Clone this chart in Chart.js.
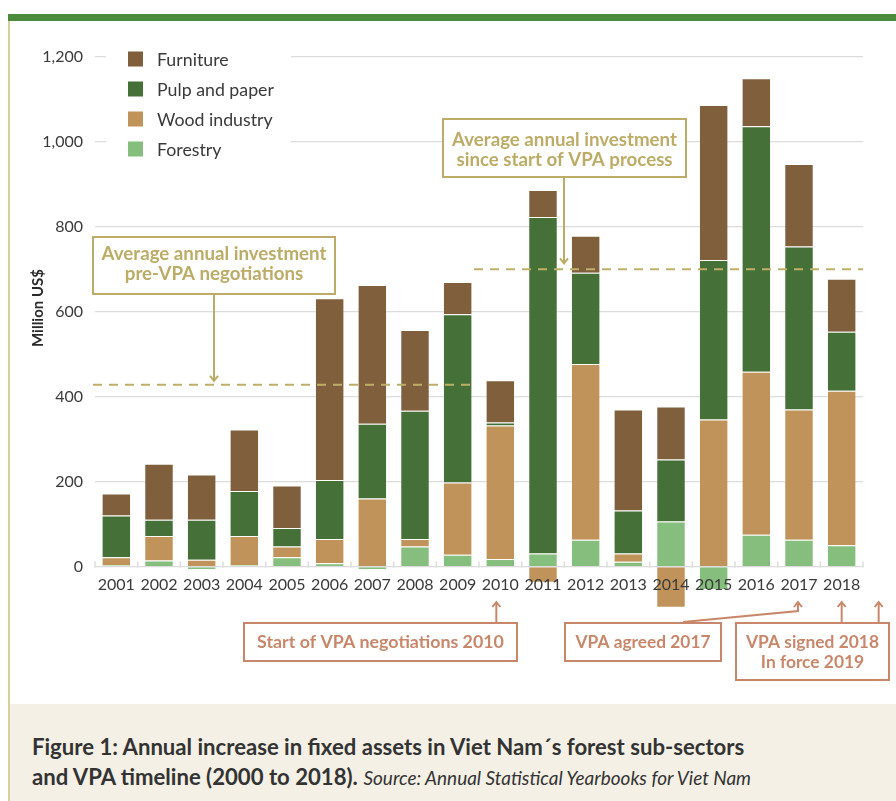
<!DOCTYPE html>
<html><head><meta charset="utf-8">
<script src="https://cdn.jsdelivr.net/npm/chart.js@4"></script>
<style>
html,body{margin:0;padding:0;background:#fff;}
#wrap{position:relative;width:896px;height:801px;overflow:hidden;background:#fff;}
#topbar{position:absolute;left:8px;top:14px;width:888px;height:7px;background:#4B8B3B;}
#leftline{position:absolute;left:8px;top:21px;width:2px;height:780px;background:#D6CE9F;}
#chartbox{position:absolute;left:0;top:0;width:896px;height:704px;}
#caption{position:absolute;left:10px;top:704px;width:886px;height:97px;background:#F4F0E5;}
.cap{position:absolute;left:22px;white-space:nowrap;color:#333;font-family:Lato,"Open Sans",sans-serif;line-height:1;}
</style></head>
<body>
<div id="wrap">
  <div id="topbar"></div>
  <div id="chartbox"><canvas id="c" width="896" height="704"></canvas></div>
  <div id="caption">
    <div class="cap" id="cap1"><b id="cap1b">Figure 1: Annual increase in fixed assets in Viet Nam´s forest sub-sectors</b></div>
    <div class="cap" id="cap2"><b id="cap2b">and VPA timeline (2000 to 2018).</b> <i id="cap2i" style="font-weight:400">Source: Annual Statistical Yearbooks for Viet Nam</i></div>
  </div>
  <div id="leftline"></div>
</div>
<script>
// ---- data ----
const years = ['2001','2002','2003','2004','2005','2006','2007','2008','2009','2010','2011','2012','2013','2014','2015','2016','2017','2018'];
const forestry     = [3, 14, -8, 3, 22, 8, -8, 47, 28, 18, 31, 63, 11, 106, -55, 75, 63, 50];
const woodIndustry = [19, 58, 16, 69, 25, 57, 160, 18, 170, 314, -38, 414, 20, -97, 346, 384, 307, 364];
const pulpPaper    = [98, 38, 94, 106, 44, 139, 176, 302, 396, 7, 792, 215, 101, 146, 376, 578, 384, 139];
const furniture    = [52, 132, 107, 145, 100, 428, 327, 190, 76, 100, 64, 87, 238, 125, 365, 113, 194, 125];
const yTicks = [0, 200, 400, 600, 800, 1000, 1200];
const avgPreVPA = 428;
const avgSinceVPA = 700;
const seriesNames = ['Forestry', 'Wood industry', 'Pulp and paper', 'Furniture'];
const boxTextsGold = [['Average annual investment', 'pre-VPA negotiations'], ['Average annual investment', 'since start of VPA process']];
const boxTextsTimeline = [['Start of VPA negotiations 2010'], ['VPA agreed 2017'], ['VPA signed 2018', 'In force 2019']];

const COLORS = ['#86BE7D', '#C0935A', '#457037', '#7F5F3C'];
const GOLD = '#BDAC67', SALMON = '#C8876A', TXT = '#3a3a3a';
const FAM = 'Lato, "Open Sans", sans-serif';

const mctx = document.createElement('canvas').getContext('2d');
function fitSize(text, weight, style, target) {
  mctx.font = style + ' ' + weight + ' 100px ' + FAM;
  return 100 * target / mctx.measureText(text).width;
}

// caption fitting
(function(){
  const s1 = fitSize('Figure 1: Annual increase in fixed assets in Viet Nam´s forest sub-sectors', 'bold', 'normal', 714);
  const c1 = document.getElementById('cap1'), c2 = document.getElementById('cap2');
  c1.style.fontSize = s1 + 'px'; c2.style.fontSize = s1 + 'px';
  const si = fitSize('Source: Annual Statistical Yearbooks for Viet Nam', 'normal', 'italic', 390);
  document.getElementById('cap2i').style.fontSize = si + 'px';
  c1.style.top = (44 - s1 * 0.55) + 'px';
  c2.style.top = (74 - s1 * 0.55) + 'px';
})();

function arrowHead(ctx, x, y, dir) { // dir: 1 = pointing down, -1 = pointing up
  ctx.beginPath();
  ctx.moveTo(x - 4, y - dir * 5);
  ctx.lineTo(x, y);
  ctx.lineTo(x + 4, y - dir * 5);
  ctx.stroke();
}
function drawBox(ctx, rect, lines, ys, target, color) {
  const [x1, y1, x2, y2] = rect;
  ctx.save();
  ctx.fillStyle = '#fff';
  ctx.fillRect(x1, y1, x2 - x1, y2 - y1);
  ctx.strokeStyle = color; ctx.lineWidth = 2;
  ctx.strokeRect(x1, y1, x2 - x1, y2 - y1);
  const size = fitSize(lines[0], 'bold', 'normal', target);
  ctx.font = 'bold ' + size + 'px ' + FAM;
  ctx.fillStyle = color; ctx.textAlign = 'center'; ctx.textBaseline = 'middle';
  lines.forEach((t, i) => ctx.fillText(t, (x1 + x2) / 2, ys[i]));
  ctx.restore();
}

const decorPlugin = {
  id: 'decor',
  beforeDatasetsDraw(chart) {
    const ctx = chart.ctx, xs = chart.scales.x, ys = chart.scales.y;
    const y0 = ys.getPixelForValue(0);
    ctx.save();
    ctx.strokeStyle = '#dcdcdc'; ctx.lineWidth = 1.5;
    for (let i = 0; i <= years.length; i++) {
      const x = xs.getPixelForValue(i) - (xs.getPixelForValue(1) - xs.getPixelForValue(0)) / 2;
      ctx.beginPath(); ctx.moveTo(x, y0 - 5); ctx.lineTo(x, y0 + 1); ctx.stroke();
    }
    ctx.restore();
  },
  afterDraw(chart) {
    const ctx = chart.ctx, xs = chart.scales.x, ys = chart.scales.y, ca = chart.chartArea;
    const step = xs.getPixelForValue(1) - xs.getPixelForValue(0);
    const boundary = xs.getPixelForValue(9) - step / 2;
    const yPre = ys.getPixelForValue(avgPreVPA), yVPA = ys.getPixelForValue(avgSinceVPA);
    ctx.save();
    // dashed average lines
    ctx.strokeStyle = '#BFAE6A'; ctx.lineWidth = 2; ctx.setLineDash([9, 7]);
    ctx.beginPath(); ctx.moveTo(ca.left - 2, yPre); ctx.lineTo(boundary - 6, yPre); ctx.stroke();
    ctx.beginPath(); ctx.moveTo(boundary - 5, yVPA); ctx.lineTo(ca.right, yVPA); ctx.stroke();
    ctx.setLineDash([]);
    // legend
    ctx.fillStyle = '#fff'; ctx.fillRect(106, 44, 185, 118);
    const ls = fitSize('Pulp and paper', 'normal', 'normal', 117);
    ctx.font = ls + 'px ' + FAM; ctx.textBaseline = 'middle'; ctx.textAlign = 'left';
    const order = [3, 2, 1, 0];
    order.forEach((di, i) => {
      const ds = chart.data.datasets[di];
      const cy = 59 + 30 * i;
      ctx.fillStyle = ds.backgroundColor; ctx.fillRect(128, cy - 7.5, 15, 15);
      ctx.fillStyle = TXT; ctx.fillText(ds.label, 157, cy + 1);
    });
    // y title
    const ts = fitSize('Million US$', 'bold', 'normal', 78);
    ctx.save(); ctx.translate(38, 308); ctx.rotate(-Math.PI / 2);
    ctx.font = 'bold ' + ts + 'px ' + FAM; ctx.fillStyle = '#2b2b2b'; ctx.textAlign = 'center'; ctx.textBaseline = 'middle';
    ctx.fillText('Million US$', 0, 0); ctx.restore();
    // gold boxes + arrows
    drawBox(ctx, [93, 237, 335, 294], boxTextsGold[0], [254, 274], 225, GOLD);
    drawBox(ctx, [443, 119, 686, 177], boxTextsGold[1], [140, 159.5], 225, GOLD);
    ctx.strokeStyle = GOLD; ctx.lineWidth = 2;
    ctx.beginPath(); ctx.moveTo(214, 295); ctx.lineTo(214, yPre - 4); ctx.stroke(); arrowHead(ctx, 214, yPre - 4, 1);
    ctx.beginPath(); ctx.moveTo(564, 178); ctx.lineTo(564, yVPA - 6); ctx.stroke(); arrowHead(ctx, 564, yVPA - 6, 1);
    // timeline boxes + arrows
    drawBox(ctx, [244, 623, 517, 661], boxTextsTimeline[0], [642], 247, SALMON);
    drawBox(ctx, [565, 623, 721, 661], boxTextsTimeline[1], [642], 135, SALMON);
    drawBox(ctx, [736, 623, 889, 680], boxTextsTimeline[2], [642, 662], 133, SALMON);
    ctx.strokeStyle = SALMON; ctx.lineWidth = 2;
    const tipY = 602;
    const x2010 = xs.getPixelForValue(9) - 4, x2017 = xs.getPixelForValue(16) - 1, x2018 = xs.getPixelForValue(17);
    ctx.beginPath(); ctx.moveTo(x2010, 622); ctx.lineTo(x2010, tipY); ctx.stroke(); arrowHead(ctx, x2010, tipY, -1);
    ctx.beginPath(); ctx.moveTo(683, 622); ctx.lineTo(x2017, 611); ctx.lineTo(x2017, tipY); ctx.stroke(); arrowHead(ctx, x2017, tipY, -1);
    ctx.beginPath(); ctx.moveTo(x2018, 622); ctx.lineTo(x2018, tipY); ctx.stroke(); arrowHead(ctx, x2018, tipY, -1);
    ctx.beginPath(); ctx.moveTo(x2018 + 37, 622); ctx.lineTo(x2018 + 37, tipY); ctx.stroke(); arrowHead(ctx, x2018 + 37, tipY, -1);
    ctx.restore();
  }
};

const series = [forestry, woodIndustry, pulpPaper, furniture];
new Chart(document.getElementById('c'), {
  type: 'bar',
  data: {
    labels: years,
    datasets: series.map((d, i) => ({
      label: seriesNames[i], data: d, backgroundColor: COLORS[i],
      borderColor: 'rgba(255,255,255,0.35)', borderWidth: 1,
      barPercentage: 0.69, categoryPercentage: 1
    }))
  },
  options: {
    responsive: false, animation: false,
    layout: { padding: { left: 0, right: 33, top: 57, bottom: 95 } },
    plugins: { legend: { display: false }, tooltip: { enabled: false } },
    scales: {
      x: {
        stacked: true, position: { y: 0 },
        grid: { display: false, drawTicks: false }, border: { display: false },
        ticks: { z: 10, color: TXT, font: { family: FAM, size: 16 }, padding: 9, maxRotation: 0, autoSkip: false }
      },
      y: {
        stacked: true, min: -100, max: 1200,
        afterBuildTicks: (s) => { s.ticks = yTicks.map(v => ({ value: v })); },
        afterFit: (s) => { s.width = 95; },
        grid: { color: '#dcdcdc', lineWidth: 1.3, drawTicks: false },
        border: { display: false },
        ticks: { color: TXT, font: { family: FAM, size: 16 }, padding: 12 }
      }
    }
  },
  plugins: [decorPlugin]
});
</script>
</body></html>
